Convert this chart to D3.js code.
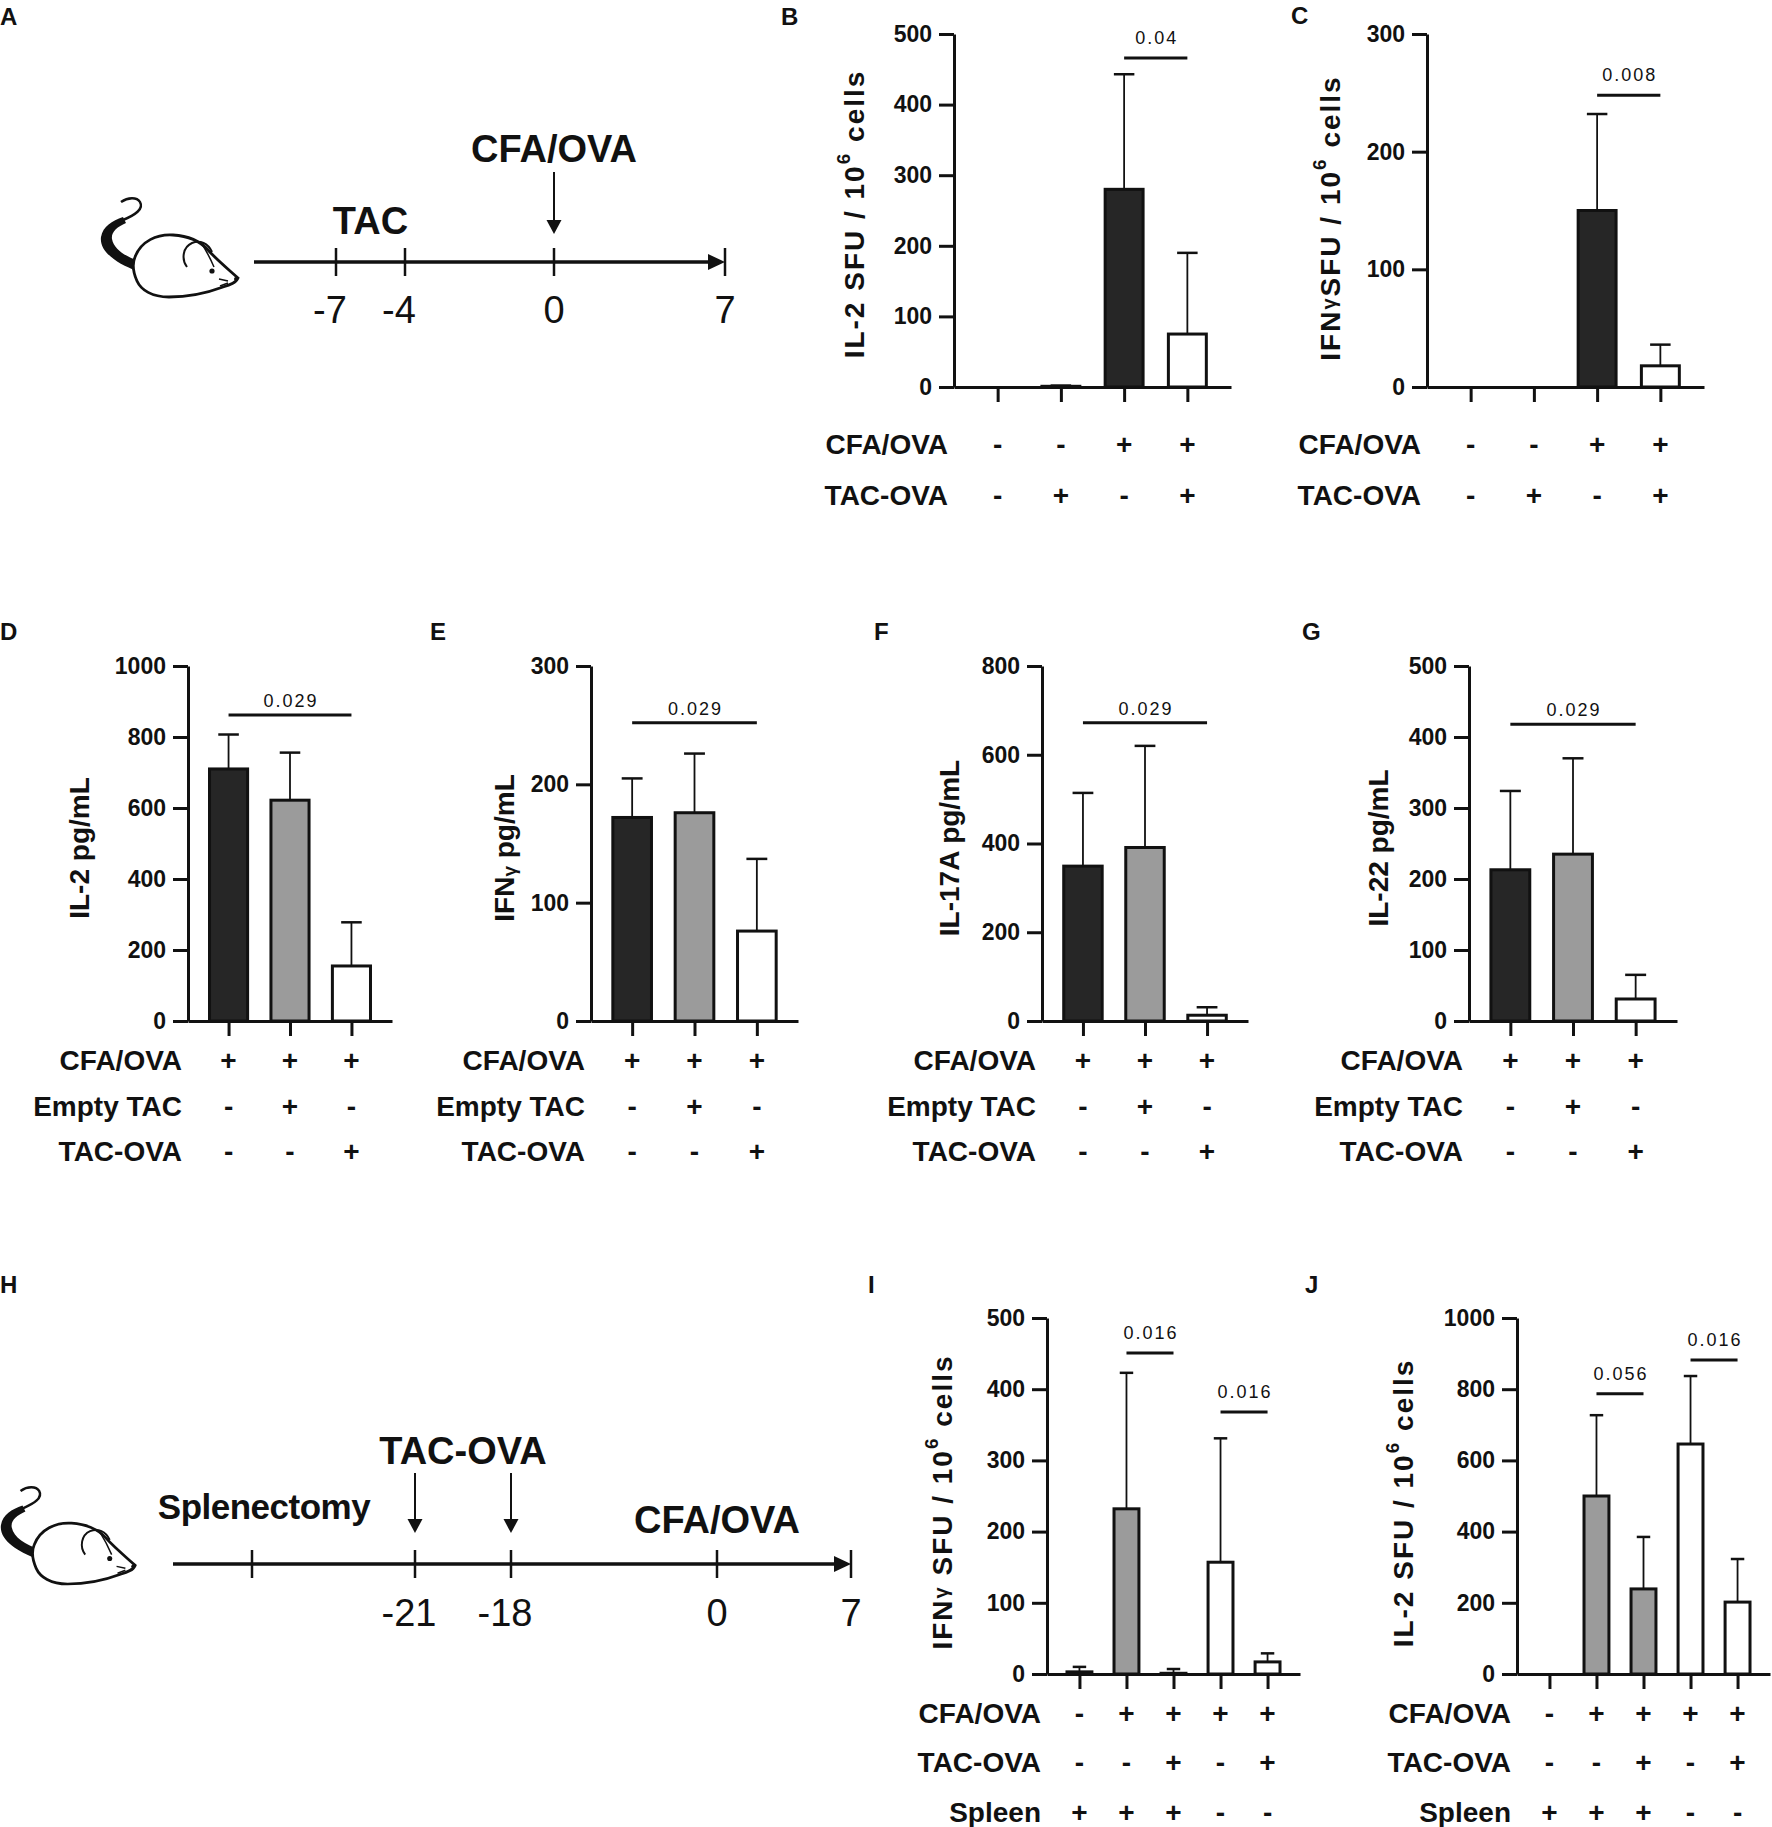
<!DOCTYPE html>
<html>
<head>
<meta charset="utf-8">
<script src="https://cdn.jsdelivr.net/npm/d3@7"></script>
<style>
  body { margin: 0; background: #fff; }
  svg { display: block; font-family: "Liberation Sans", Arial, Helvetica, sans-serif; }
</style>
</head>
<body>
<div id="figure"></div>
<script>
// ---------- values ----------

// B, C: ELISpot, spot forming units per 10^6 cells
var bcGroups = ["none", "TAC-OVA", "CFA/OVA", "CFA/OVA + TAC-OVA"];
var bcRowLabels = ["CFA/OVA", "TAC-OVA"];
var bcRowSigns = [["-", "-", "+", "+"], ["-", "+", "-", "+"]];
var il2SfuMean = [0, 1, 280, 75];
var il2SfuSD = [0, 1, 163, 115];
var ifngSfuMean = [0, 0, 150, 18];
var ifngSfuSD = [0, 0, 82, 18];
var bPvalues = [{ from: 2, to: 3, text: "0.04", level: 466 }];
var cPvalues = [{ from: 2, to: 3, text: "0.008", level: 248 }];

// D-G: cytokines in supernatant, pg/mL
var dgGroups = ["CFA/OVA", "CFA/OVA + Empty TAC", "CFA/OVA + TAC-OVA"];
var dgRowLabels = ["CFA/OVA", "Empty TAC", "TAC-OVA"];
var dgRowSigns = [["+", "+", "+"], ["-", "+", "-"], ["-", "-", "+"]];
var il2Mean = [710, 622, 155];
var il2SD = [97, 134, 123];
var ifngMean = [172, 176, 76];
var ifngSD = [33, 50, 61];
var il17aMean = [349, 391, 13];
var il17aSD = [165, 229, 18];
var il22Mean = [213, 235, 31];
var il22SD = [111, 135, 34];
var dPvalues = [{ from: 0, to: 2, text: "0.029", level: 862 }];
var ePvalues = [{ from: 0, to: 2, text: "0.029", level: 252 }];
var fPvalues = [{ from: 0, to: 2, text: "0.029", level: 672 }];
var gPvalues = [{ from: 0, to: 2, text: "0.029", level: 418 }];

// I, J: splenectomy experiment
var ijGroups = ["Spleen", "Spleen + CFA/OVA", "Spleen + CFA/OVA + TAC-OVA",
                "No spleen + CFA/OVA", "No spleen + CFA/OVA + TAC-OVA"];
var ijRowLabels = ["CFA/OVA", "TAC-OVA", "Spleen"];
var ijRowSigns = [["-", "+", "+", "+", "+"], ["-", "-", "+", "-", "+"], ["+", "+", "+", "-", "-"]];
var iIfngMean = [3, 232, 1, 157, 17];
var iIfngSD = [7, 191, 6, 174, 12];
var jIl2Mean = [0, 500, 239, 646, 202];
var jIl2SD = [0, 227, 146, 191, 121];
var iPvalues = [{ from: 1, to: 2, text: "0.016", level: 451 }, { from: 3, to: 4, text: "0.016", level: 368 }];
var jPvalues = [{ from: 1, to: 2, text: "0.056", level: 787 }, { from: 3, to: 4, text: "0.016", level: 882 }];

// A, H: schedules (days)
var aTickLabels = ["-7", "-4", "0", "7"];
var hTickLabels = ["", "-21", "-18", "0", "7"];

// ---------- drawing ----------
var INK = "#111";
var DARK = "#262626", GREY = "#9b9b9b", OPEN = "#ffffff";

var svg = d3.select("#figure")
    .append("svg")
    .attr("width", 1772)
    .attr("height", 1827);

function styleAxis(axis) {
    axis.select(".domain").attr("stroke", INK).attr("stroke-width", 3);
    axis.selectAll(".tick line").attr("stroke", INK).attr("stroke-width", 3);
    axis.selectAll(".tick text")
        .attr("fill", INK)
        .style("font-size", "23px")
        .style("font-weight", "bold")
        .style("font-family", "'Liberation Sans', Arial, sans-serif");
}

// rotated axis title, parts: plain strings or {up: ".."} / {mid: ".."} / {down: ".."}
function yTitle(g, cx, cy, parts, spacing) {
    var t = g.append("text")
        .attr("transform", "translate(" + cx + "," + cy + ") rotate(-90)")
        .attr("text-anchor", "middle")
        .attr("dominant-baseline", "central")
        .attr("fill", INK)
        .style("font-size", "28px")
        .style("font-weight", "bold")
        .style("letter-spacing", spacing + "px");
    var shift = 0;
    parts.forEach(function (p) {
        var s = t.append("tspan");
        var dy = 0, txt = p, size = null;
        if (typeof p !== "string") {
            if (p.up) { txt = p.up; dy = -11; size = 19; }
            if (p.mid) { txt = p.mid; dy = -1; size = 20; }
            if (p.down) { txt = p.down; dy = 5; size = 19; }
        }
        s.attr("dy", (dy - shift) + "px").text(txt);
        if (size) s.style("font-size", size + "px");
        shift = dy;
    });
}

function barPanel(cfg) {
    var g = svg.append("g");
    var x = d3.scalePoint().domain(cfg.groups).range([cfg.left, cfg.right]).padding(cfg.pad);
    var y = d3.scaleLinear().domain([0, cfg.yMax]).range([cfg.bottom, cfg.top]);
    var bw = x.step() * cfg.barFrac;
    var fill = d3.scaleOrdinal().domain(cfg.groups).range(cfg.fills);
    var data = cfg.groups.map(function (c, i) {
        return { group: c, mean: cfg.means[i], sd: cfg.sd[i] };
    });

    // bars
    g.selectAll(".bar").data(data)
        .enter()
        .append("rect")
        .attr("x", d => x(d.group) - bw / 2)
        .attr("y", d => y(d.mean))
        .attr("width", bw)
        .attr("height", d => y(0) - y(d.mean))
        .attr("fill", d => fill(d.group))
        .attr("stroke", INK)
        .attr("stroke-width", 3);

    // upper error bars
    var err = g.selectAll(".err").data(data.filter(d => d.sd > 0)).enter().append("g");
    err.append("line")
        .attr("x1", d => x(d.group)).attr("x2", d => x(d.group))
        .attr("y1", d => y(d.mean)).attr("y2", d => y(d.mean + d.sd))
        .attr("stroke", INK).attr("stroke-width", 1.8);
    err.append("line")
        .attr("x1", d => x(d.group) - bw * 0.27).attr("x2", d => x(d.group) + bw * 0.27)
        .attr("y1", d => y(d.mean + d.sd)).attr("y2", d => y(d.mean + d.sd))
        .attr("stroke", INK).attr("stroke-width", 2.5);

    // axes
    var yAxis = g.append("g")
        .attr("transform", "translate(" + cfg.left + ",0)")
        .call(d3.axisLeft(y)
            .tickValues(d3.range(0, cfg.yMax + 1, cfg.yStep))
            .tickSize(15).tickSizeOuter(0).tickPadding(7)
            .tickFormat(d3.format("d")));
    styleAxis(yAxis);

    var xAxis = g.append("g")
        .attr("transform", "translate(0," + cfg.bottom + ")")
        .call(d3.axisBottom(x).tickSize(15).tickSizeOuter(0).tickFormat(""));
    styleAxis(xAxis);

    yTitle(g, cfg.titleX, cfg.titleY, cfg.title, cfg.titleSpacing);

    // p values
    cfg.pvalues.forEach(function (p) {
        var x1 = x(cfg.groups[p.from]), x2 = x(cfg.groups[p.to]);
        g.append("line")
            .attr("x1", x1).attr("x2", x2)
            .attr("y1", y(p.level)).attr("y2", y(p.level))
            .attr("stroke", INK).attr("stroke-width", 3);
        g.append("text")
            .attr("x", (x1 + x2) / 2 + 1)
            .attr("y", y(p.level) - cfg.pGap)
            .attr("text-anchor", "middle")
            .attr("fill", INK)
            .style("font-size", "18px")
            .style("letter-spacing", "2px")
            .text(p.text);
    });

    // condition rows
    cfg.rowLabels.forEach(function (label, r) {
        g.append("text")
            .attr("x", cfg.left - 6)
            .attr("y", cfg.rowsY[r])
            .attr("text-anchor", "end")
            .attr("fill", INK)
            .style("font-size", "28px")
            .style("font-weight", "bold")
            .text(label);
        g.selectAll(".sign" + r).data(cfg.rowSigns[r])
            .enter()
            .append("text")
            .attr("x", (d, i) => x(cfg.groups[i]))
            .attr("y", cfg.rowsY[r])
            .attr("text-anchor", "middle")
            .attr("fill", INK)
            .style("font-size", "28px")
            .style("font-weight", "bold")
            .text(d => d);
    });
}

function mouse(tx, ty, s) {
    var m = svg.append("g").attr("transform", "translate(" + tx + "," + ty + ") scale(" + s + ")");
    // tail
    m.append("path")
        .attr("d", "M40,74 C21,67 2,55 4,40 C6,29 15,24 26,20 L29,26 C20,30 14,35 15,42 C17,53 30,60 42,64 Z")
        .attr("fill", INK);
    m.append("path")
        .attr("d", "M26,23 C38,18 47,12 43,5 C40,0 31,0 24,5")
        .attr("fill", "none").attr("stroke", INK).attr("stroke-width", 2.5);
    // body
    m.append("path")
        .attr("d", "M38,60 C44,44 60,37 76,38 C92,39 103,44 111,53 C120,63 131,72 141,81 " +
            "C139,86 133,88 126,90 C110,96 90,100 72,100 C55,100 44,93 40,84 C36,75 35,67 38,60 Z")
        .attr("fill", "#fff").attr("stroke", INK).attr("stroke-width", 2.8);
    // ear
    m.append("path")
        .attr("d", "M90,70 C84,62 86,50 95,46 C103,43 111,46 115,55")
        .attr("fill", "none").attr("stroke", INK).attr("stroke-width", 2);
    m.append("path")
        .attr("d", "M105,47 C110,55 114,63 117,70")
        .attr("fill", "none").attr("stroke", INK).attr("stroke-width", 1.5);
    // eye, nose, whiskers
    m.append("circle").attr("cx", 115).attr("cy", 74).attr("r", 2.6).attr("fill", INK);
    m.append("circle").attr("cx", 139).attr("cy", 82).attr("r", 2).attr("fill", INK);
    m.append("path")
        .attr("d", "M131,84 L122,82 M131,86 L123,89")
        .attr("stroke", INK).attr("stroke-width", 1.5);
}

function timeline(cfg) {
    var g = svg.append("g");
    var x = d3.scaleOrdinal().domain(d3.range(cfg.labels.length)).range(cfg.tickX);
    var last = cfg.labels.length - 1;
    var yLine = cfg.y;

    g.append("line")
        .attr("x1", cfg.start).attr("x2", x(last) - 12)
        .attr("y1", yLine).attr("y2", yLine)
        .attr("stroke", INK).attr("stroke-width", 3.5);
    g.append("path")
        .attr("d", "M" + (x(last) - 17) + "," + (yLine - 8) + " L" + x(last) + "," + yLine +
            " L" + (x(last) - 17) + "," + (yLine + 8) + " Z")
        .attr("fill", INK);

    g.selectAll(".tk").data(cfg.labels)
        .enter()
        .append("line")
        .attr("x1", (d, i) => x(i)).attr("x2", (d, i) => x(i))
        .attr("y1", yLine - 14).attr("y2", yLine + 14)
        .attr("stroke", INK).attr("stroke-width", 2.5);

    g.selectAll(".lb").data(cfg.labels)
        .enter()
        .append("text")
        .attr("x", (d, i) => x(i) - (d.charAt(0) === "-" ? 6 : 0))
        .attr("y", cfg.labelY)
        .attr("text-anchor", "middle")
        .attr("fill", INK)
        .style("font-size", "38px")
        .text(d => d);

    cfg.events.forEach(function (e) {
        var cx = e.to !== undefined ? (x(e.from) + x(e.to)) / 2 : x(e.from) + (e.dx || 0);
        g.append("text")
            .attr("x", cx)
            .attr("y", e.y)
            .attr("text-anchor", "middle")
            .attr("fill", INK)
            .style("font-size", (e.size || 38) + "px")
            .style("font-weight", "bold")
            .style("letter-spacing", (e.spacing || 0) + "px")
            .text(e.text);
        (e.arrows || []).forEach(function (a) {
            g.append("line")
                .attr("x1", x(a)).attr("x2", x(a))
                .attr("y1", e.arrowTop).attr("y2", e.arrowTip - 10)
                .attr("stroke", INK).attr("stroke-width", 2);
            g.append("path")
                .attr("d", "M" + (x(a) - 7.5) + "," + (e.arrowTip - 14) + " L" + x(a) + "," + e.arrowTip +
                    " L" + (x(a) + 7.5) + "," + (e.arrowTip - 14) + " Z")
                .attr("fill", INK);
        });
    });
}

// panel letters
var letters = [["A", 0, 25], ["B", 781, 25], ["C", 1291, 24], ["D", 0, 640], ["E", 430, 640],
               ["F", 874, 640], ["G", 1302, 640], ["H", 0, 1293], ["I", 868, 1293], ["J", 1305, 1293]];
svg.selectAll(".letter").data(letters)
    .enter()
    .append("text")
    .attr("x", d => d[1])
    .attr("y", d => d[2])
    .attr("fill", INK)
    .style("font-size", "24px")
    .style("font-weight", "bold")
    .text(d => d[0]);

// A
mouse(97, 197, 1);
timeline({
    labels: aTickLabels, tickX: [336, 405, 554, 725], start: 254, y: 262, labelY: 323,
    events: [
        { text: "TAC", from: 0, to: 1, y: 234 },
        { text: "CFA/OVA", from: 2, y: 162, arrows: [2], arrowTop: 172, arrowTip: 234 }
    ]
});

// H
mouse(-3, 1486, 0.98);
timeline({
    labels: hTickLabels, tickX: [252, 415, 511, 717, 851], start: 173, y: 1564, labelY: 1626,
    events: [
        { text: "Splenectomy", from: 0, dx: 12, y: 1519, size: 35, spacing: -0.5 },
        { text: "TAC-OVA", from: 1, to: 2, y: 1464, arrows: [1, 2], arrowTop: 1473, arrowTip: 1533 },
        { text: "CFA/OVA", from: 3, y: 1533 }
    ]
});

var sfuTitle = ["IL-2 SFU / 10", { up: "6" }, " cells"];
var sfuGammaTitle = ["IFN", { mid: "γ" }, "SFU / 10", { up: "6" }, " cells"];
var iTitle = ["IFN", { mid: "γ" }, " SFU / 10", { up: "6" }, " cells"];

// B
barPanel({
    groups: bcGroups, means: il2SfuMean, sd: il2SfuSD, fills: [DARK, DARK, DARK, OPEN],
    left: 954, right: 1231, top: 34, bottom: 387, yMax: 500, yStep: 100, pad: 0.69, barFrac: 0.6,
    title: sfuTitle, titleX: 854, titleY: 214, titleSpacing: 2,
    pvalues: bPvalues, pGap: 14,
    rowLabels: bcRowLabels, rowSigns: bcRowSigns, rowsY: [454, 505]
});
// C
barPanel({
    groups: bcGroups, means: ifngSfuMean, sd: ifngSfuSD, fills: [DARK, DARK, DARK, OPEN],
    left: 1427, right: 1704, top: 34, bottom: 387, yMax: 300, yStep: 100, pad: 0.69, barFrac: 0.6,
    title: sfuGammaTitle, titleX: 1330, titleY: 218, titleSpacing: 2,
    pvalues: cPvalues, pGap: 14,
    rowLabels: bcRowLabels, rowSigns: bcRowSigns, rowsY: [454, 505]
});

// D-G
var dgFills = [DARK, GREY, OPEN];
var dgPanels = [
    { means: il2Mean, sd: il2SD, yMax: 1000, yStep: 200, left: 188, right: 392, titleX: 79,
      title: ["IL-2 pg/mL"], pvalues: dPvalues },
    { means: ifngMean, sd: ifngSD, yMax: 300, yStep: 100, left: 591, right: 798, titleX: 504,
      title: ["IFN", { down: "γ" }, " pg/mL"], pvalues: ePvalues },
    { means: il17aMean, sd: il17aSD, yMax: 800, yStep: 200, left: 1042, right: 1248, titleX: 949,
      title: ["IL-17A pg/mL"], pvalues: fPvalues },
    { means: il22Mean, sd: il22SD, yMax: 500, yStep: 100, left: 1469, right: 1677, titleX: 1378,
      title: ["IL-22 pg/mL"], pvalues: gPvalues }
];
dgPanels.forEach(function (p) {
    barPanel({
        groups: dgGroups, means: p.means, sd: p.sd, fills: dgFills,
        left: p.left, right: p.right, top: 666, bottom: 1021, yMax: p.yMax, yStep: p.yStep,
        pad: 0.66, barFrac: 0.62,
        title: p.title, titleX: p.titleX, titleY: 848, titleSpacing: 0,
        pvalues: p.pvalues, pGap: 8,
        rowLabels: dgRowLabels, rowSigns: dgRowSigns, rowsY: [1070, 1116, 1161]
    });
});

// I
barPanel({
    groups: ijGroups, means: iIfngMean, sd: iIfngSD, fills: [GREY, GREY, GREY, OPEN, OPEN],
    left: 1047, right: 1300, top: 1318, bottom: 1674, yMax: 500, yStep: 100, pad: 0.69, barFrac: 0.53,
    title: iTitle, titleX: 942, titleY: 1502, titleSpacing: 2,
    pvalues: iPvalues, pGap: 14,
    rowLabels: ijRowLabels, rowSigns: ijRowSigns, rowsY: [1723, 1772, 1822]
});
// J
barPanel({
    groups: ijGroups, means: jIl2Mean, sd: jIl2SD, fills: [GREY, GREY, GREY, OPEN, OPEN],
    left: 1517, right: 1770, top: 1318, bottom: 1674, yMax: 1000, yStep: 200, pad: 0.69, barFrac: 0.53,
    title: sfuTitle, titleX: 1403, titleY: 1503, titleSpacing: 2,
    pvalues: jPvalues, pGap: 14,
    rowLabels: ijRowLabels, rowSigns: ijRowSigns, rowsY: [1723, 1772, 1822]
});
</script>
</body>
</html>
